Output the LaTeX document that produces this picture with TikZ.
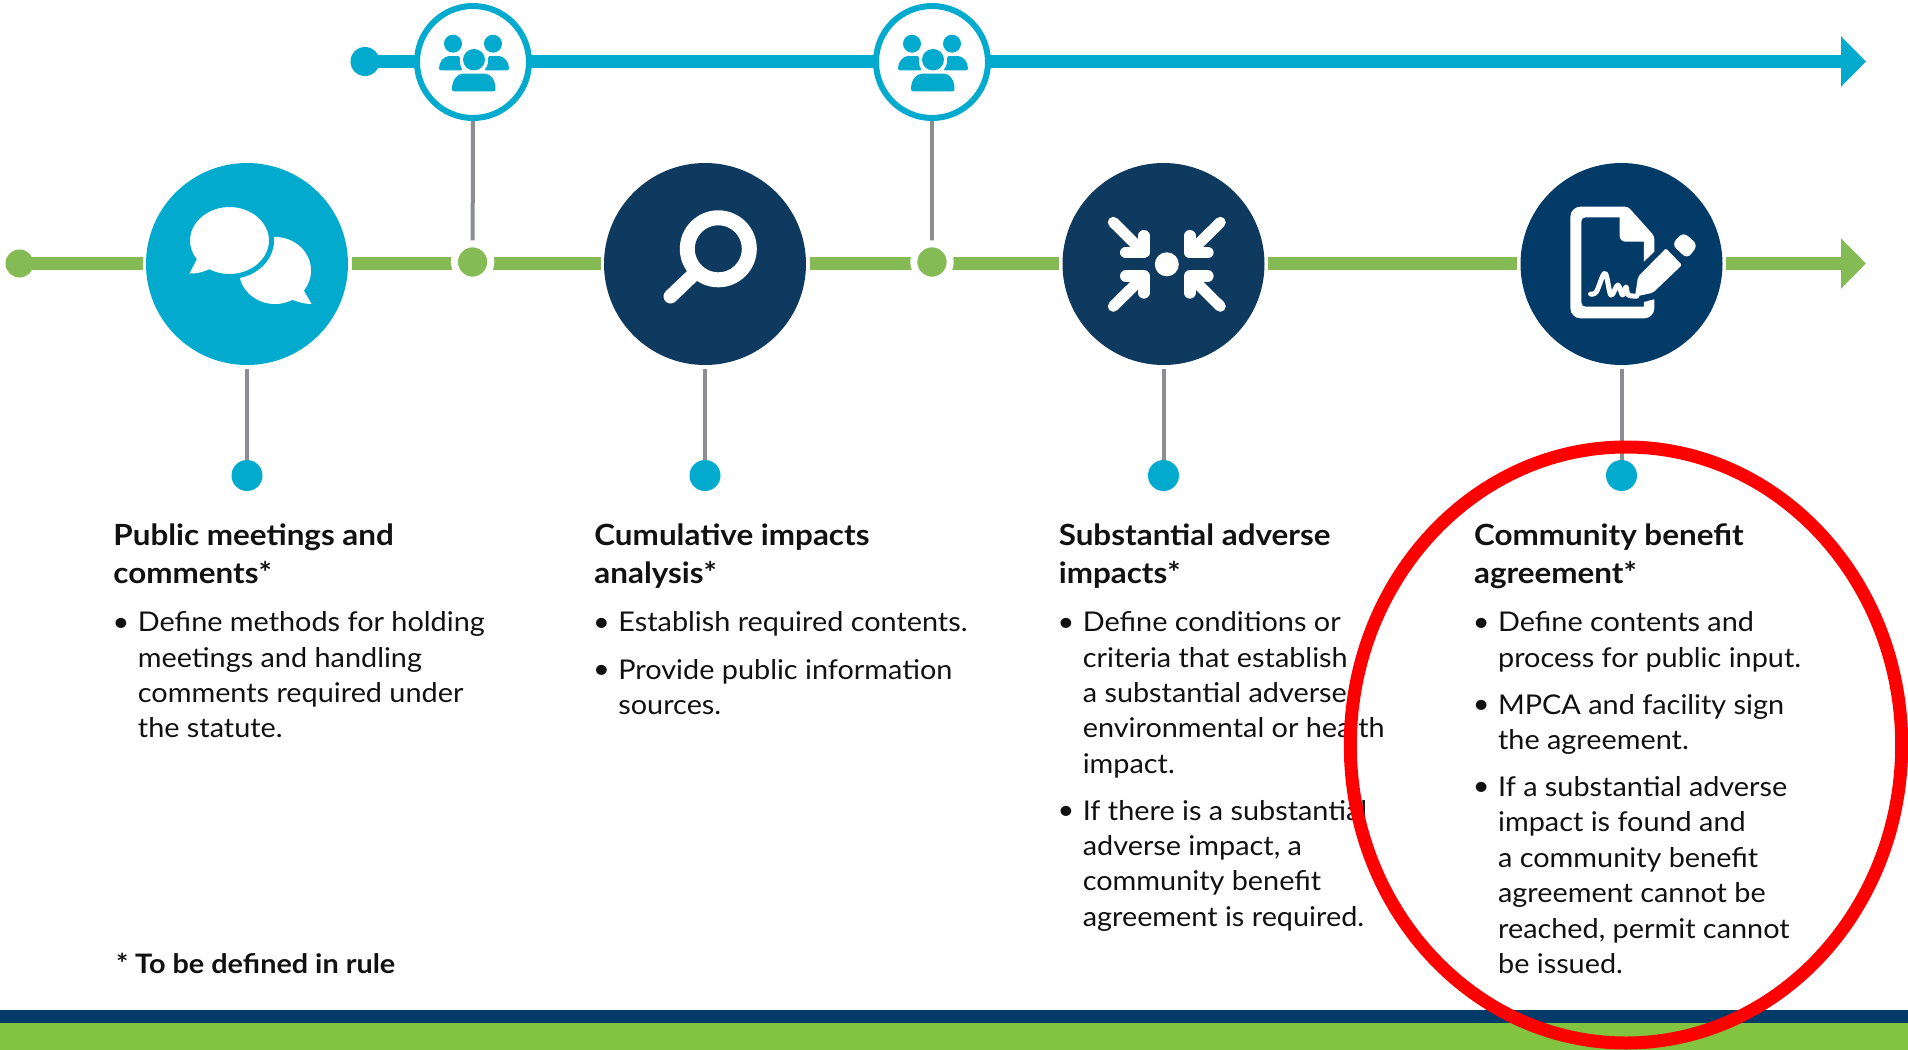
\documentclass[tikz,border=0pt]{standalone}
\usepackage{fontspec}
\setmainfont{Lato}
\newfontfamily\bodyfam[FakeStretch=1.06]{Lato}
\newfontfamily\headfam[FakeStretch=1.075]{Lato}
\usetikzlibrary{arrows.meta,shapes.geometric}
\pgfdeclarelayer{under}
\pgfsetlayers{under,main}
\definecolor{cyanb}{HTML}{02ABCE}
\definecolor{greenl}{HTML}{85BB54}
\definecolor{navya}{HTML}{0E3A5F}
\definecolor{navyb}{HTML}{023A68}
\definecolor{grayl}{HTML}{8C8D92}
\definecolor{greenbar}{HTML}{82C33F}
\definecolor{inkt}{HTML}{111111}
\newcommand{\lines}[1]{\begin{tabular}[t]{@{}l@{}}#1\end{tabular}}
\newcommand{\bul}[1]{\makebox[12pt][l]{\hspace*{-0.6pt}\raisebox{0.3pt}{•}}\lines{#1}}
\tikzset{
  bigdisc/.style={circle,minimum size=101pt,inner sep=0pt,outer sep=1.75pt},
  peopledisc/.style={circle,draw=cyanb,fill=white,line width=3pt,minimum size=56pt,inner sep=0pt,outer sep=0pt},
  greendot/.style={circle,fill=greenl,draw=white,line width=3.5pt,minimum size=18.2pt,inner sep=0pt,outer sep=0pt},
  cyandot/.style={circle,fill=cyanb,minimum size=15.5pt,inner sep=0pt,outer sep=0pt},
  startg/.style={circle,fill=greenl,minimum size=14pt,inner sep=0pt,outer sep=0pt},
  startc/.style={circle,fill=cyanb,minimum size=14.5pt,inner sep=0pt,outer sep=0pt},
  greenline/.style={draw=greenl,line width=6.2pt},
  cyanline/.style={draw=cyanb,line width=6.2pt},
  stem/.style={draw=grayl,line width=2pt},
  flowtip/.style={-{Triangle[length=12.5pt,width=24.5pt]}},
  titletext/.style={anchor=base west,inner sep=0pt,text=inkt,font=\headfam\fontsize{14.6}{19}\selectfont\bfseries},
  notetext/.style={anchor=base west,inner sep=0pt,text=inkt,font=\headfam\fontsize{13.4}{19}\selectfont\bfseries},
  bodytext/.style={anchor=base west,inner sep=0pt,text=inkt,font=\bodyfam\fontsize{13.6}{17.7}\selectfont},
  iconline/.style={draw=white,line cap=round,line join=round},
}
\begin{document}
\begin{tikzpicture}[x=0.5pt,y=-0.5pt]
\path[use as bounding box] (0,0) rectangle (1908,1050);
% discs and dots
\node[bigdisc,fill=cyanb] (c1) at (247,264) {};
\node[bigdisc,fill=navya] (c2) at (705,264) {};
\node[bigdisc,fill=navya] (c3) at (1163.5,264) {};
\node[bigdisc,fill=navyb] (c4) at (1621.5,264) {};
\node[peopledisc] (p1) at (473,62) {};
\node[peopledisc] (p2) at (932,62) {};
\node[greendot] (g1) at (472.6,262) {};
\node[greendot] (g2) at (932,262) {};
\node[startg] (gs) at (19.5,263.5) {};
\node[startc] (cs) at (365,61.5) {};
\coordinate (ge) at (1866,263.5);
\coordinate (ce) at (1866,61.5);
\node[cyandot] (d1) at (247,475.5) {};
\node[cyandot] (d2) at (705,475.5) {};
\node[cyandot] (d3) at (1163.5,475.5) {};
\node[cyandot] (d4) at (1621.5,475.5) {};
% connectors
\begin{pgfonlayer}{under}
\draw[greenline] (gs.center) -- (gs -| c1.west);
\draw[greenline] (gs -| c1.east) -- (gs -| g1.center);
\draw[greenline] (gs -| g1.center) -- (gs -| c2.west);
\draw[greenline] (gs -| c2.east) -- (gs -| g2.center);
\draw[greenline] (gs -| g2.center) -- (gs -| c3.west);
\draw[greenline] (gs -| c3.east) -- (gs -| c4.west);
\draw[greenline,flowtip] (gs -| c4.east) -- (ge);
\draw[cyanline] (cs.center) -- (cs -| p1.west);
\draw[cyanline] (cs -| p1.east) -- (cs -| p2.west);
\draw[cyanline,flowtip] (cs -| p2.east) -- (ce);
\draw[stem] (p1.south) -- ([yshift=-4pt]g1.north);
\draw[stem] (p2.south) -- ([yshift=-4pt]g2.north);
\foreach \i in {1,2,3,4}{\draw[stem] (c\i.south) -- (d\i.north);}
\end{pgfonlayer}
% speech bubbles icon
\fill[white] (275,270.5) ellipse [x radius=36,y radius=33.5];
\fill[white] (303,289) -- (311.5,304) .. controls (304,304) and (298,302) .. (290,299) -- cycle;
\fill[white,draw=cyanb,line width=2.5pt] (229.5,240.5) ellipse [x radius=42,y radius=36];
\fill[white] (197.5,258) -- (189.5,273.5) .. controls (196,274) and (203,272) .. (211,268.5) -- cycle;
% magnifier icon
\draw[iconline,line width=7.5pt] (718.3,248.8) circle [radius=31];
\draw[iconline,line width=7pt] (692,276) -- (670.5,296.5);
% converging arrows icon
\fill[white] (1166.8,264.3) circle [radius=12];
\foreach \sx/\sy in {1/1,-1/1,1/-1,-1/-1}{
  \draw[iconline,line width=5.8pt] ({1166.8+\sx*41},{264.3+\sy*11.8}) -- ({1166.8+\sx*23},{264.3+\sy*11.8}) -- ({1166.8+\sx*23},{264.3+\sy*28.5});
  \draw[iconline,line width=5.5pt] ({1166.8+\sx*23},{264.3+\sy*11.8}) -- ({1166.8+\sx*53.5},{264.3+\sy*42});
}
% document and pencil icon
\fill[white] (1643.9,261.7) -- (1654.3,251.7) [rounded corners=1.5pt] -- (1654.3,236) -- (1628,206.7) [rounded corners=5pt] -- (1570.4,206.7) -- (1570.4,318.3) -- (1654.3,318.3) [sharp corners] -- (1654.3,299.3) -- (1643.9,302) -- (1643.9,306.7) [rounded corners=2pt] -- (1581.4,306.7) -- (1581.4,217.3) [sharp corners] -- (1619.6,217.3) [rounded corners=3pt] -- (1619.6,241.7) [sharp corners] -- (1643.9,241.7) -- cycle;
\fill[white,rounded corners=1pt] (1665.9,248.3) -- (1682,265) -- (1653,292.7) -- (1635,296.7) -- (1638,276.7) -- cycle;
\fill[white,rounded corners=3pt] (1671.7,244.3) -- (1683.3,232) -- (1698,245) -- (1687.3,259) -- cycle;
\draw[iconline,line width=2.5pt] plot[smooth,tension=0.6] coordinates {(1590.6,294) (1596.4,291.7) (1605,273.3) (1610.9,295) (1617.8,285) (1622.5,295) (1626,287) (1628.3,295) (1637,296)};
% people icons
\foreach \dx in {0,459}{
  \begin{scope}[xshift=\dx*0.5pt]
  \fill[cyanb] (453,43.7) ellipse [x radius=9,y radius=9];
  \fill[cyanb] (493,43.7) ellipse [x radius=9,y radius=9];
  \fill[cyanb] (474,59.7) ellipse [x radius=11,y radius=10.7];
  \fill[cyanb,rounded corners=1pt] (452,91.3) .. controls (452,80) and (457,73.7) .. (465,73.7) -- (483,73.7) .. controls (491,73.7) and (495.5,80) .. (495.5,91.3) -- cycle;
  \fill[cyanb,rounded corners=1pt] (439,70.3) .. controls (439,62) and (444,56) .. (451,56) -- (460,56) .. controls (459.5,61) and (460,66) .. (463,70.3) -- cycle;
  \fill[cyanb,rounded corners=1pt] (509,70.3) .. controls (509,62) and (504,56) .. (497,56) -- (488,56) .. controls (488.5,61) and (488,66) .. (484,70.3) -- cycle;
  \end{scope}
}
% texts
\node[titletext] (t1) at (113,545.6) {\lines{Public meetings and\\comments*}};
\node[bodytext] (b11) at (113.5,631.6) {\bul{Define methods for holding\\meetings and handling\\comments required under\\the statute.}};
\node[titletext] (t2) at (594,545.6) {\lines{Cumulative impacts\\analysis*}};
\node[bodytext] (b21) at (594,631.6) {\bul{Establish required contents.}};
\node[bodytext] (b22) at (594,679) {\bul{Provide public information\\sources.}};
\node[titletext] (t3) at (1058.4,545.6) {\lines{Substantial adverse\\impacts*}};
\node[bodytext] (b31) at (1058.4,631.6) {\bul{Define conditions or\\criteria that establish\\a substantial adverse\\environmental or health\\impact.}};
\node[bodytext] (b32) at (1058.4,820) {\bul{If there is a substantial\\adverse impact, a\\community benefit\\agreement is required.}};
\node[titletext] (t4) at (1473.7,545.6) {\lines{Community benefit\\agreement*}};
\node[bodytext] (b41) at (1473.7,631.6) {\bul{Define contents and\\process for public input.}};
\node[bodytext] (b42) at (1473.7,714) {\bul{MPCA and facility sign\\the agreement.}};
\node[bodytext] (b43) at (1473.7,796.5) {\bul{If a substantial adverse\\impact is found and\\a community benefit\\agreement cannot be\\reached, permit cannot\\be issued.}};
\node[notetext] (fn) at (115.6,973) {* To be defined in rule};
% bottom bars
\fill[navyb] (0,1009.5) rectangle (1908,1023);
\fill[greenbar] (0,1023) rectangle (1908,1050);
% red ellipse
\draw[red,line width=6.5pt] (1626,745) ellipse [x radius=275.7,y radius=298];
\end{tikzpicture}
\end{document}
